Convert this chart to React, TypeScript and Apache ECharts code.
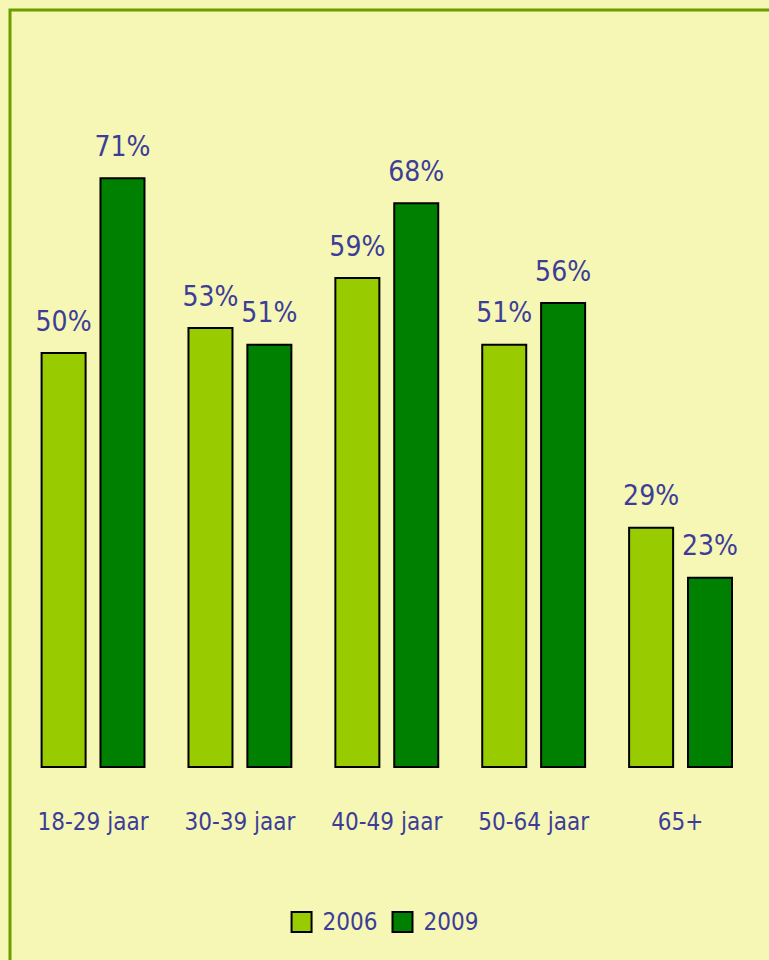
import React, { useEffect, useRef } from "react";
import * as echarts from "echarts";

const categories = ["18-29 jaar", "30-39 jaar", "40-49 jaar", "50-64 jaar", "65+"];
const values2006 = [50, 53, 59, 51, 29];
const values2009 = [71, 51, 68, 56, 23];
const seriesNames = ["2006", "2009"];

const FONT = '"DejaVu Sans Condensed", "DejaVu Sans", sans-serif';
const TEXT = "#3d3d99";
const BG = "#f6f7b4";

export default function App() {
  const ref = useRef<HTMLDivElement>(null);
  useEffect(() => {
    document.body.style.margin = "0";
    document.body.style.background = BG;
    const chart = echarts.init(ref.current!, null, { renderer: "svg" });
    const labelCfg = {
      show: true,
      position: "top",
      distance: 17,
      formatter: (p: any) => p.value + "%",
      color: TEXT,
      fontFamily: FONT,
      fontSize: 28,
    };
    chart.setOption({
      animation: false,
      backgroundColor: BG,
      graphic: [
        {
          type: "polyline",
          shape: { points: [[10, 960], [10, 10], [769, 10]] },
          style: { stroke: "#6a9e00", lineWidth: 3, fill: "none" },
        },
      ],
      grid: { left: 19.6, right: 15, top: 102.4, bottom: 192, containLabel: false },
      xAxis: {
        type: "category",
        data: categories,
        axisLine: { show: false },
        axisTick: { show: false },
        axisLabel: { interval: 0, color: TEXT, fontFamily: FONT, fontSize: 24, margin: 42 },
      },
      yAxis: { type: "value", min: 0, max: 80, show: false, splitLine: { show: false } },
      legend: {
        data: seriesNames,
        bottom: 21,
        left: "center",
        icon: "rect",
        itemWidth: 20,
        itemHeight: 20,
        itemGap: 14,
        textStyle: { color: TEXT, fontFamily: FONT, fontSize: 24, padding: [0, 0, 0, 6] },
      },
      series: [
        {
          name: seriesNames[0],
          type: "bar",
          data: values2006,
          barWidth: 46,
          barGap: "28%",
          itemStyle: { color: "#99cc00", borderColor: "#000", borderWidth: 2 },
          label: labelCfg,
        },
        {
          name: seriesNames[1],
          type: "bar",
          data: values2009,
          barWidth: 46,
          barGap: "28%",
          itemStyle: { color: "#008000", borderColor: "#000", borderWidth: 2 },
          label: labelCfg,
        },
      ],
    });
    return () => chart.dispose();
  }, []);
  return <div ref={ref} style={{ width: 769, height: 960 }} />;
}
